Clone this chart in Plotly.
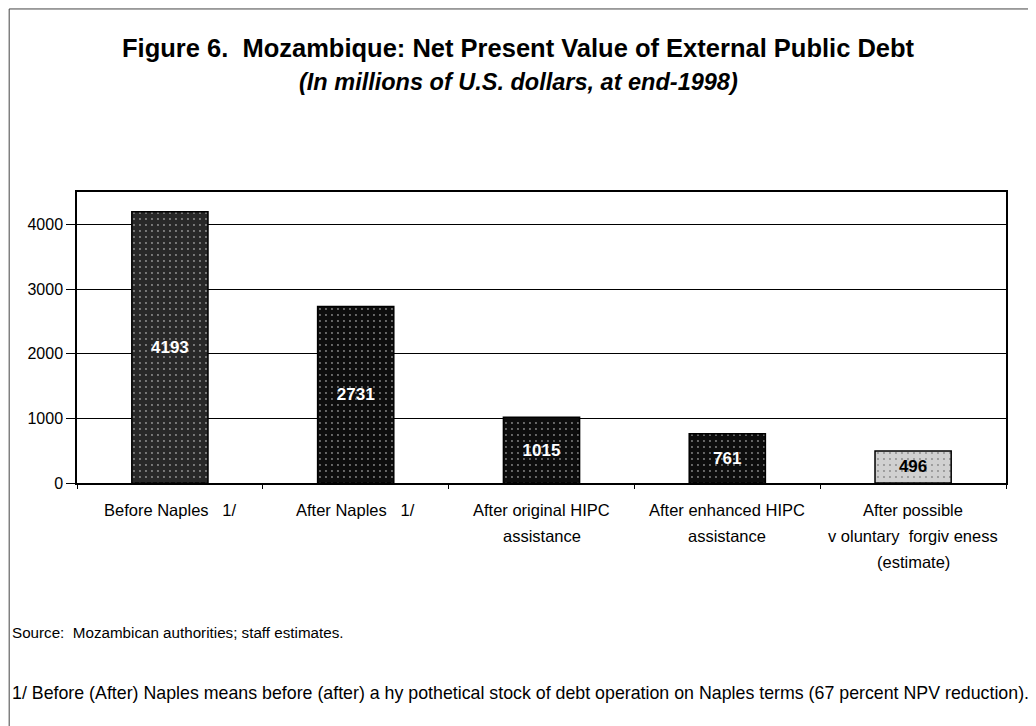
import plotly.graph_objects as go

# Data (millions of US$, end-1998)
categories = [
    "Before Naples   1/",
    "After Naples   1/",
    "After original HIPC|assistance",
    "After enhanced HIPC|assistance",
    "After possible|v oluntary  forgiv eness|(estimate)",
]
npv_values = [4193, 2731, 1015, 761, 496]
bar_colors = ["#282828", "#0d0d0d", "#0d0d0d", "#0d0d0d", "#d0d0d0"]
label_colors = ["white", "white", "white", "white", "black"]
y_ticks = [0, 1000, 2000, 3000, 4000]

ARIAL = "Liberation Sans, Arial"

# plot box height in pixels, used to place the free text around it
PLOT_H = 291
LINE_GAP = 26

fig = go.Figure(
    go.Bar(
        x=categories,
        y=npv_values,
        width=0.41,
        marker=dict(
            color=bar_colors,
            line=dict(color="black", width=1.5),
            pattern=dict(shape=".", fgcolor="#6a6a6a", size=6, solidity=0.08),
        ),
        text=[str(v) for v in npv_values],
        textposition="inside",
        insidetextanchor="middle",
        textangle=0,
        textfont=dict(family=ARIAL, size=17, color=label_colors, weight="bold"),
        hoverinfo="y",
    )
)

# the page body has an 8px margin, so the figure is 8px smaller than the window
fig.update_layout(
    width=1028,
    height=718,
    margin=dict(l=69, r=30, t=184, b=243),
    paper_bgcolor="white",
    plot_bgcolor="white",
    showlegend=False,
    font=dict(family=ARIAL, color="black"),
)

fig.update_xaxes(
    type="category",
    showline=True,
    linecolor="black",
    linewidth=1.5,
    mirror=True,
    ticks="outside",
    tickson="boundaries",
    ticklen=4,
    tickcolor="black",
    showticklabels=False,
    showgrid=False,
)
fig.update_yaxes(
    range=[0, 4500],
    tickvals=y_ticks,
    showline=True,
    linecolor="black",
    linewidth=1.5,
    mirror=True,
    ticks="outside",
    ticklen=9,
    tickcolor="black",
    tickfont=dict(family=ARIAL, size=16),
    showgrid=True,
    gridcolor="black",
    gridwidth=1,
    zeroline=False,
)

# category labels, one annotation per line so the line spacing matches
for cat in categories:
    for i, line in enumerate(cat.split("|")):
        fig.add_annotation(
            text=line, x=cat, xref="x", yref="paper",
            y=-(27 + i * LINE_GAP) / PLOT_H,
            xanchor="center", yanchor="middle", showarrow=False,
            font=dict(family=ARIAL, size=16.5),
        )

# titles and notes
fig.add_annotation(
    text="<b>Figure 6.  Mozambique: Net Present Value of External Public Debt</b>",
    xref="paper", yref="paper", x=0.475, y=1.495,
    xanchor="center", yanchor="middle", showarrow=False,
    font=dict(family=ARIAL, size=25.5),
)
fig.add_annotation(
    text="<b><i>(In millions of U.S. dollars, at end-1998)</i></b>",
    xref="paper", yref="paper", x=0.475, y=1.378,
    xanchor="center", yanchor="middle", showarrow=False,
    font=dict(family=ARIAL, size=23.5),
)
fig.add_annotation(
    text="Source:  Mozambican authorities; staff estimates.",
    xref="paper", yref="paper", x=-0.072, y=-0.515,
    xanchor="left", yanchor="middle", showarrow=False,
    font=dict(family=ARIAL, size=15.2),
)
fig.add_annotation(
    text="1/ Before (After) Naples means before (after) a hy pothetical stock of debt "
         "operation on Naples terms (67 percent NPV reduction).",
    xref="paper", yref="paper", x=-0.072, y=-0.72,
    xanchor="left", yanchor="middle", showarrow=False,
    font=dict(family=ARIAL, size=17.8),
)

# page frame (top and left rules of the scanned figure box)
fig.add_shape(type="line", xref="paper", yref="paper",
              x0=-0.073, x1=1.04, y0=1.629, y1=1.629,
              line=dict(color="#444", width=1))
fig.add_shape(type="line", xref="paper", yref="paper",
              x0=-0.073, x1=-0.073, y0=1.629, y1=-0.84,
              line=dict(color="#444", width=1))

fig.write_html("out.html")
